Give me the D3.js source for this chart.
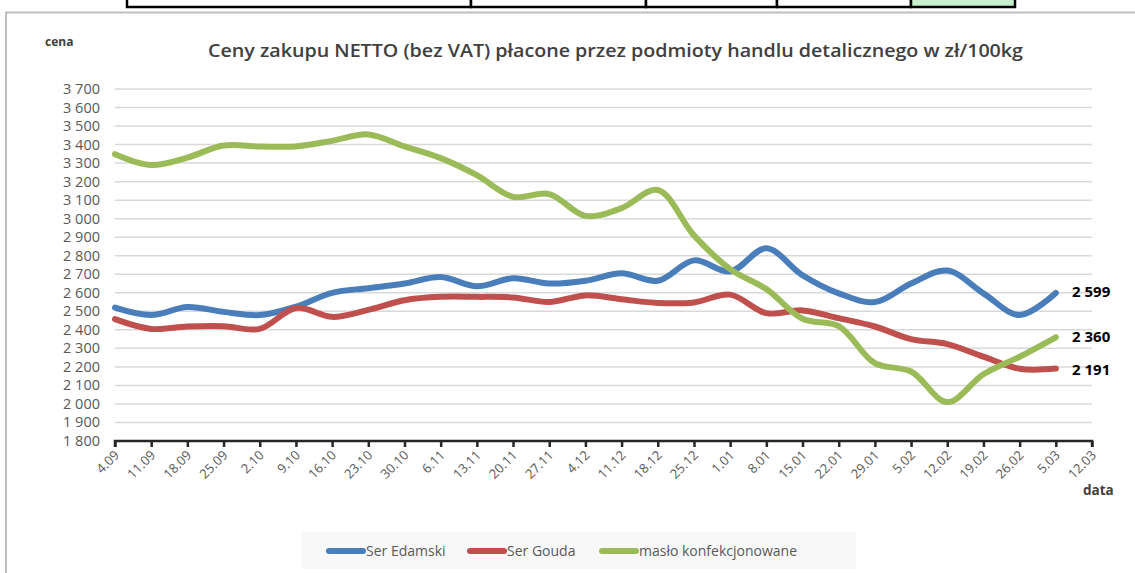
<!DOCTYPE html>
<html>
<head>
<meta charset="utf-8">
<script src="https://cdn.jsdelivr.net/npm/d3@7"></script>
<style>
  body { margin: 0; background: #fff; }
  text { font-family: "Open Sans", "Noto Sans", sans-serif; }
</style>
</head>
<body>
<script>
const width = 1135;
const height = 573;

const dates = ["4.09", "11.09", "18.09", "25.09", "2.10", "9.10", "16.10", "23.10", "30.10", "6.11",
  "13.11", "20.11", "27.11", "4.12", "11.12", "18.12", "25.12", "1.01", "8.01", "15.01",
  "22.01", "29.01", "5.02", "12.02", "19.02", "26.02", "5.03", "12.03"];

const edamski = [2520, 2480, 2523, 2497, 2480, 2525, 2600, 2625, 2650, 2685,
  2635, 2678, 2650, 2665, 2705, 2665, 2775, 2715, 2840, 2695,
  2597, 2550, 2650, 2720, 2597, 2480, 2599];
const gouda = [2458, 2405, 2418, 2420, 2405, 2518, 2470, 2508, 2560, 2578,
  2578, 2575, 2550, 2586, 2565, 2545, 2548, 2590, 2490, 2505,
  2463, 2418, 2350, 2323, 2255, 2190, 2191];
const maslo = [3348, 3290, 3330, 3395, 3390, 3390, 3420, 3455, 3390, 3327,
  3235, 3118, 3133, 3015, 3057, 3155, 2910, 2728, 2620, 2460,
  2420, 2220, 2175, 2010, 2160, 2255, 2360];

const seriesNames = ["Ser Edamski", "Ser Gouda", "masło konfekcjonowane"];
const colors = ["#4a7ebb", "#c0504d", "#9bbb59"];
const yTicks = d3.range(1800, 3701, 100);

const series = [edamski, gouda, maslo];

const svg = d3.select("body").append("svg")
  .attr("width", width)
  .attr("height", height);

// table strip above the chart
const cells = [127, 471, 646, 777, 911, 1015];
for (let i = 0; i < cells.length - 1; i++) {
  svg.append("rect")
    .attr("x", cells[i]).attr("y", -4)
    .attr("width", cells[i + 1] - cells[i]).attr("height", 11)
    .attr("fill", i == cells.length - 2 ? "#c6efce" : "#fff")
    .attr("stroke", "#000").attr("stroke-width", 2.5);
}

// chart frame
svg.append("path")
  .attr("d", "M6,573 V12.5 H1140")
  .attr("fill", "none")
  .attr("stroke", "#bfbfbf")
  .attr("stroke-width", 2);

const x = d3.scalePoint()
  .domain(dates)
  .range([115, 1092]);

const y = d3.scaleLinear()
  .domain([1800, 3700])
  .range([441, 89]);

// gridlines
svg.append("g")
  .selectAll("line")
  .data(yTicks.slice(1))
  .enter()
  .append("line")
  .attr("x1", 115).attr("x2", 1092)
  .attr("y1", d => y(d)).attr("y2", d => y(d))
  .attr("stroke", "#d9d9d9")
  .attr("stroke-width", 1.5);

// y axis labels
svg.append("g")
  .selectAll("text")
  .data(yTicks)
  .enter()
  .append("text")
  .attr("x", 100)
  .attr("y", d => y(d) + 5)
  .attr("text-anchor", "end")
  .attr("font-size", 14.5)
  .attr("fill", "#595959")
  .text(d => d3.format(",")(d).replace(",", " "));

// x axis
const xAxis = d3.axisBottom(x).tickSize(6).tickFormat("");
const gx = svg.append("g")
  .attr("transform", "translate(0," + y(1800) + ")")
  .call(xAxis);
gx.select(".domain").attr("stroke", "#262626").attr("stroke-width", 2.5)
  .attr("d", "M115,6V0H1092V6");
gx.selectAll(".tick line").attr("stroke", "#262626").attr("stroke-width", 2.5);

svg.append("g")
  .selectAll("text")
  .data(dates)
  .enter()
  .append("text")
  .attr("transform", d => "translate(" + (x(d) + 5) + "," + 456 + ") rotate(-45)")
  .attr("text-anchor", "end")
  .attr("font-size", 13)
  .attr("fill", "#595959")
  .text(d => d);

// lines
const line = d3.line()
  .x((d, i) => x(dates[i]))
  .y(d => y(d))
  .curve(d3.curveCatmullRom.alpha(0.5));

svg.append("g")
  .selectAll("path")
  .data(series)
  .enter()
  .append("path")
  .attr("d", d => line(d))
  .attr("fill", "none")
  .attr("stroke", (d, i) => colors[i])
  .attr("stroke-width", 6)
  .attr("stroke-linecap", "round")
  .attr("stroke-linejoin", "round");

// end labels
const endOffset = [4, 6, 5];
svg.append("g")
  .selectAll("text")
  .data(series)
  .enter()
  .append("text")
  .attr("x", 1072)
  .attr("y", (d, i) => y(d[d.length - 1]) + endOffset[i])
  .attr("font-size", 15)
  .attr("font-weight", "bold")
  .attr("fill", "#000")
  .text(d => d3.format(",")(d[d.length - 1]).replace(",", " "));

// title and axis names
svg.append("text")
  .attr("x", 208).attr("y", 57)
  .attr("font-size", 18.5)
  .attr("font-weight", 600)
  .attr("fill", "#404040")
  .attr("textLength", 815)
  .attr("lengthAdjust", "spacingAndGlyphs")
  .text("Ceny zakupu NETTO (bez VAT) płacone przez podmioty handlu detalicznego w zł/100kg");

svg.append("text")
  .attr("x", 45).attr("y", 46)
  .attr("font-size", 12)
  .attr("font-weight", "bold")
  .attr("fill", "#404040")
  .text("cena");

svg.append("text")
  .attr("x", 1083).attr("y", 495)
  .attr("font-size", 13.5)
  .attr("font-weight", "bold")
  .attr("fill", "#404040")
  .text("data");

// legend
svg.append("rect")
  .attr("x", 301).attr("y", 532)
  .attr("width", 555).attr("height", 37)
  .attr("fill", "#f8f8f8");

const legendX = [327, 468, 600];
const leg = svg.append("g")
  .selectAll("g")
  .data(seriesNames)
  .enter()
  .append("g")
  .attr("transform", (d, i) => "translate(" + legendX[i] + ",551)");

leg.append("line")
  .attr("x1", 2).attr("x2", 36)
  .attr("stroke", (d, i) => colors[i])
  .attr("stroke-width", 6)
  .attr("stroke-linecap", "round");

leg.append("text")
  .attr("x", 39).attr("y", 5)
  .attr("font-size", 14)
  .attr("fill", "#595959")
  .text(d => d);
</script>
</body>
</html>
